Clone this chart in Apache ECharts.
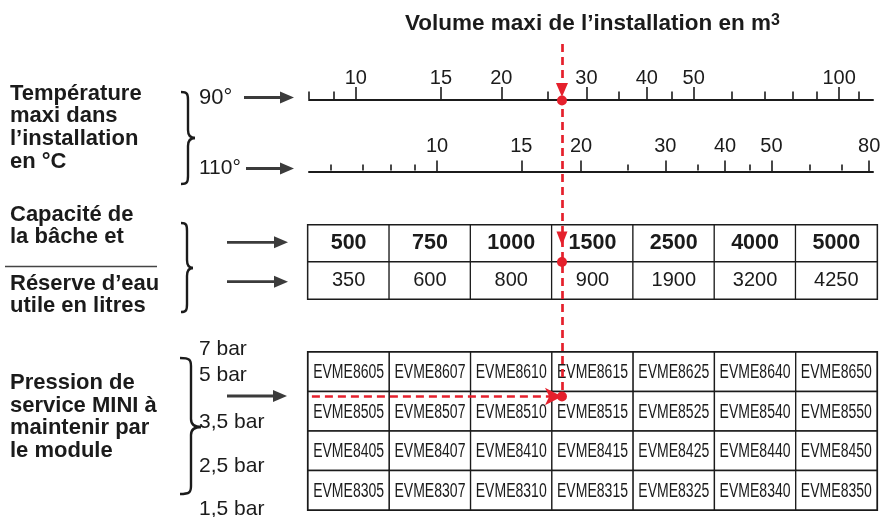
<!DOCTYPE html>
<html>
<head>
<meta charset="utf-8">
<title>Volume maxi de l'installation</title>
<script src="https://cdn.jsdelivr.net/npm/echarts@6/dist/echarts.min.js"></script>
<style>
  html, body { margin: 0; padding: 0; background: #fff; }
  #chart { width: 880px; height: 517px; }
</style>
</head>
<body>
<div id="chart"></div>
<script>
// échelle 90 °C : volume en m3
const VOL_90_LABELS = [10, 15, 20, 30, 40, 50, 100];
const VOL_90_MINOR = [8, 9, 25, 35, 45, 60, 70, 80, 90, 110];
const VOL_90_RANGE = [8, 117.5];

// échelle 110 °C : volume en m3
const VOL_110_LABELS = [10, 15, 20, 30, 40, 50, 80];
const VOL_110_MINOR = [6, 7, 8, 9, 25, 35, 45, 60, 70];
const VOL_110_RANGE = [5.4, 81.5];

// bâche : capacité et réserve utile (litres)
const CAPACITE = [500, 750, 1000, 1500, 2500, 4000, 5000];
const RESERVE = [350, 600, 800, 900, 1900, 3200, 4250];

// modules, une ligne par pression de service
const MODULES_86 = ['EVME8605', 'EVME8607', 'EVME8610', 'EVME8615', 'EVME8625', 'EVME8640', 'EVME8650'];
const MODULES_85 = ['EVME8505', 'EVME8507', 'EVME8510', 'EVME8515', 'EVME8525', 'EVME8540', 'EVME8550'];
const MODULES_84 = ['EVME8405', 'EVME8407', 'EVME8410', 'EVME8415', 'EVME8425', 'EVME8440', 'EVME8450'];
const MODULES_83 = ['EVME8305', 'EVME8307', 'EVME8310', 'EVME8315', 'EVME8325', 'EVME8340', 'EVME8350'];
const PRESSIONS = ['7 bar', '5 bar', '3,5 bar', '2,5 bar', '1,5 bar'];

// exemple de lecture (trait rouge)
const VOLUME_CHOISI = 26.7;

const MODULES = [MODULES_86, MODULES_85, MODULES_84, MODULES_83];

const FONT = "'Liberation Sans', Arial, Helvetica, sans-serif";
const INK = '#1b1b1b';
const RED = '#e5202c';
const GREY = '#3b3b3b';

// mise en page
const SCALE_LEFT = 309, SCALE_WIDTH = 564;
const TABLE_LEFT = 308, TABLE_WIDTH = 569;
const Y_90 = 99, Y_110 = 170.5;
const CAP_TOP = 225, CAP_H = 74;
const MOD_TOP = 352, MOD_H = 158;
const MARK_Y = { start: 44, tri90: 90, dot90: Y_90 + 1.5, triCap: 238.5, dotCap: CAP_TOP + CAP_H / 2, row: 396.5 };

const lg = Math.log10;

function scaleAxes(gridIndex, range, labels, minor, majorLen, minorLen, margin) {
  const base = {
    type: 'value', gridIndex: gridIndex, position: 'top',
    min: lg(range[0]), max: lg(range[1]),
    splitLine: { show: false }
  };
  return [
    Object.assign({}, base, {
      axisLine: { show: true, lineStyle: { color: INK, width: 2 } },
      axisTick: { show: true, length: majorLen, customValues: labels.map(lg), lineStyle: { color: INK, width: 1.6 } },
      axisLabel: {
        show: true, customValues: labels.map(lg), margin: margin,
        formatter: (v) => String(Math.round(Math.pow(10, v))),
        color: INK, fontSize: 20, fontFamily: FONT
      }
    }),
    Object.assign({}, base, {
      axisLine: { show: false },
      axisTick: { show: true, length: minorLen, customValues: minor.map(lg), lineStyle: { color: INK, width: 1.6 } },
      axisLabel: { show: false }
    })
  ];
}

function text(str, x, y, size, weight) {
  return {
    type: 'text', x: x, y: y,
    style: {
      text: str, fontSize: size, fontWeight: weight || 'normal', fontFamily: FONT,
      fill: INK, align: 'left', verticalAlign: 'middle'
    }
  };
}

function arrow(x1, x2, y) {
  return [
    { type: 'line', shape: { x1: x1, y1: y, x2: x2 - 10, y2: y }, style: { stroke: GREY, lineWidth: 2.8 } },
    { type: 'polygon', shape: { points: [[x2 - 14, y - 6], [x2, y], [x2 - 14, y + 6]] }, style: { fill: GREY } }
  ];
}

function brace(x0, xs, x1, y0, ym, y1) {
  const r = 8;
  const st = { stroke: INK, lineWidth: 2.4, fill: 'none' };
  return [
    { type: 'bezierCurve', shape: { x1: x0, y1: y0, cpx1: x0 + (xs - x0) * 0.9, cpy1: y0, cpx2: xs, cpy2: y0 + 2, x2: xs, y2: y0 + r }, style: st },
    { type: 'line', shape: { x1: xs, y1: y0 + r, x2: xs, y2: ym - r }, style: st },
    { type: 'bezierCurve', shape: { x1: xs, y1: ym - r, cpx1: xs, cpy1: ym - 2, cpx2: xs + (x1 - xs) * 0.4, cpy2: ym, x2: x1, y2: ym }, style: st },
    { type: 'bezierCurve', shape: { x1: x1, y1: ym, cpx1: xs + (x1 - xs) * 0.4, cpy1: ym, cpx2: xs, cpy2: ym + 2, x2: xs, y2: ym + r }, style: st },
    { type: 'line', shape: { x1: xs, y1: ym + r, x2: xs, y2: y1 - r }, style: st },
    { type: 'bezierCurve', shape: { x1: xs, y1: y1 - r, cpx1: xs, cpy1: y1 - 2, cpx2: x0 + (xs - x0) * 0.9, cpy2: y1, x2: x0, y2: y1 }, style: st }
  ];
}

const capData = [];
CAPACITE.forEach((v, i) => capData.push([i, 0, v]));
RESERVE.forEach((v, i) => capData.push([i, 1, v]));

const modData = [];
MODULES.forEach((row, r) => row.forEach((name, c) => modData.push([c, r])));

// cellule de module : cadre + texte étroit
function moduleCell(params, api) {
  const c = api.value(0), r = api.value(1);
  const pt = api.coord([c, r]);
  const sz = api.size([1, 1]);
  return {
    type: 'group',
    children: [
      {
        type: 'rect',
        shape: { x: pt[0] - sz[0] / 2, y: pt[1] - sz[1] / 2, width: sz[0], height: sz[1] },
        style: { fill: '#fff', stroke: INK, lineWidth: 1.3 }
      },
      {
        type: 'text', x: pt[0], y: pt[1] + 1, scaleX: 0.72,
        style: { text: MODULES[r][c], fontSize: 19.5, fontFamily: FONT, fill: INK, align: 'center', verticalAlign: 'middle' }
      }
    ]
  };
}

const graphics = [
  {
    type: 'text', x: 405, y: 24,
    style: {
      text: 'Volume maxi de l’installation en m{sup|3}',
      fontSize: 22.5, fontWeight: 'bold', fontFamily: FONT, fill: INK, align: 'left', verticalAlign: 'middle',
      rich: { sup: { fontSize: 16, fontWeight: 'bold', fontFamily: FONT, fill: INK, verticalAlign: 'top' } }
    }
  },
  text('Température', 10, 93.5, 22, 'bold'),
  text('maxi dans', 10, 116, 22, 'bold'),
  text('l’installation', 10, 138.7, 22, 'bold'),
  text('en °C', 10, 161.5, 22, 'bold'),
  text('Capacité de', 10, 214.5, 22, 'bold'),
  text('la bâche et', 10, 237, 22, 'bold'),
  text('Réserve d’eau', 10, 284, 22, 'bold'),
  text('utile en litres', 10, 306, 22, 'bold'),
  text('Pression de', 10, 383.3, 22, 'bold'),
  text('service MINI à', 10, 405.7, 22, 'bold'),
  text('maintenir par', 10, 428, 22, 'bold'),
  text('le module', 10, 450.5, 22, 'bold'),
  text('90°', 199, 98, 22),
  text('110°', 199, 168, 21),
  { type: 'line', shape: { x1: 5, y1: 266.5, x2: 157, y2: 266.5 }, style: { stroke: '#444', lineWidth: 1.5 } }
];
const pressY = [349, 375, 422.5, 466, 509];
PRESSIONS.forEach((p, i) => graphics.push(text(p, 199, pressY[i], 21)));
[[244, 294, 97.5], [246, 294, 168.5], [227, 288, 242.3], [227, 288, 281.7], [227, 287, 396]]
  .forEach((a) => graphics.push(...arrow(a[0], a[1], a[2])));
graphics.push(...brace(181, 188, 195, 92, 138, 184));
graphics.push(...brace(181, 187, 193, 223, 268, 312));
graphics.push(...brace(180, 191, 201, 358, 427, 494));

const xSel = lg(VOLUME_CHOISI);

const chart = echarts.init(document.getElementById('chart'));
chart.setOption({
  animation: false,
  backgroundColor: '#fff',
  textStyle: { fontFamily: FONT },
  grid: [
    { left: SCALE_LEFT, top: Y_90, width: SCALE_WIDTH, height: 1, outerBoundsMode: 'none', containLabel: false },
    { left: SCALE_LEFT, top: Y_110, width: SCALE_WIDTH, height: 1, outerBoundsMode: 'none', containLabel: false },
    { left: TABLE_LEFT, top: CAP_TOP, width: TABLE_WIDTH, height: CAP_H, show: true, borderColor: INK, borderWidth: 2.2, outerBoundsMode: 'none', containLabel: false },
    { left: TABLE_LEFT, top: MOD_TOP, width: TABLE_WIDTH, height: MOD_H, show: true, borderColor: INK, borderWidth: 2.2, outerBoundsMode: 'none', containLabel: false },
    { left: SCALE_LEFT, top: 0, width: SCALE_WIDTH, height: 517, outerBoundsMode: 'none', containLabel: false }
  ],
  xAxis: [].concat(
    scaleAxes(0, VOL_90_RANGE, VOL_90_LABELS, VOL_90_MINOR, 13, 7.5, 11),
    scaleAxes(1, VOL_110_RANGE, VOL_110_LABELS, VOL_110_MINOR, 11, 6, 14),
    [
      { type: 'category', gridIndex: 2, data: CAPACITE.map(String), show: false },
      { type: 'category', gridIndex: 3, data: MODULES_86, show: false },
      { type: 'value', gridIndex: 4, min: lg(VOL_90_RANGE[0]), max: lg(VOL_90_RANGE[1]), show: false }
    ]
  ),
  yAxis: [
    { type: 'value', gridIndex: 0, min: 0, max: 1, show: false },
    { type: 'value', gridIndex: 1, min: 0, max: 1, show: false },
    { type: 'category', gridIndex: 2, data: ['capacite', 'reserve'], inverse: true, show: false },
    { type: 'category', gridIndex: 3, data: ['7 bar', '5 bar', '3,5 bar', '2,5 bar'], inverse: true, show: false },
    { type: 'value', gridIndex: 4, min: 0, max: 517, inverse: true, show: false }
  ],
  series: [
    {
      type: 'heatmap', xAxisIndex: 4, yAxisIndex: 2, data: capData, silent: true,
      itemStyle: { color: '#fff', borderColor: INK, borderWidth: 1.3 },
      emphasis: { disabled: true },
      label: {
        show: true,
        formatter: (p) => (p.data[1] === 0 ? '{b|' + p.data[2] + '}' : '{n|' + p.data[2] + '}'),
        rich: {
          b: { fontSize: 21.5, fontWeight: 'bold', fontFamily: FONT, color: INK },
          n: { fontSize: 20, fontFamily: FONT, color: INK }
        }
      }
    },
    {
      type: 'custom', xAxisIndex: 5, yAxisIndex: 3, data: modData, silent: true,
      renderItem: moduleCell
    },
    {
      type: 'scatter', xAxisIndex: 6, yAxisIndex: 4, z: 10, silent: true,
      itemStyle: { color: RED, opacity: 1 },
      data: [
        { value: [xSel, MARK_Y.tri90], symbol: 'triangle', symbolRotate: 180, symbolSize: [12, 14] },
        { value: [xSel, MARK_Y.triCap], symbol: 'triangle', symbolRotate: 180, symbolSize: [11, 14] },
        { value: [xSel, MARK_Y.dot90], symbol: 'circle', symbolSize: 10 },
        { value: [xSel, MARK_Y.dotCap], symbol: 'circle', symbolSize: 10 },
        { value: [xSel, MARK_Y.row], symbol: 'circle', symbolSize: 10 }
      ],
      markLine: {
        silent: true, animation: false,
        symbol: ['none', 'none'],
        label: { show: false },
        lineStyle: { color: RED, type: [8, 5], width: 2.7, opacity: 1 },
        emphasis: { disabled: true },
        data: [
          [{ coord: [xSel, MARK_Y.start] }, { coord: [xSel, MARK_Y.row] }],
          [{ coord: [lg(VOL_90_RANGE[0]) + 0.006, MARK_Y.row] }, { coord: [xSel, MARK_Y.row], symbol: 'arrow', symbolSize: [13, 17] }]
        ]
      }
    }
  ],
  graphic: { elements: graphics }
});
</script>
</body>
</html>
